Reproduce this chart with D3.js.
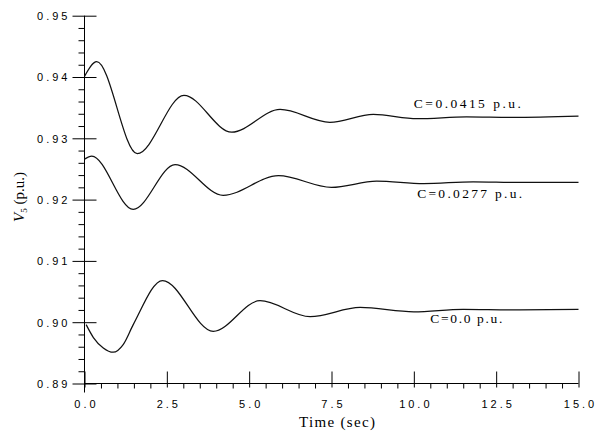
<!DOCTYPE html>
<html>
<head>
<meta charset="utf-8">
<script src="https://cdn.jsdelivr.net/npm/d3@7"></script>
<style>
  html, body { margin: 0; padding: 0; background: #fff; }
  svg { display: block; }
</style>
</head>
<body>
<svg width="599" height="432"></svg>
<script>
// series (time in sec, voltage in p.u.)
const tHigh = [0, 0.37, 1.60, 3.02, 4.47, 5.94, 7.45, 8.77, 10.1, 11.6, 13.0, 15];
const vHigh = [0.9401, 0.9425, 0.9275, 0.9370, 0.9310, 0.9347, 0.9326, 0.9339, 0.9332, 0.9335, 0.9334, 0.9336];

const tMid = [0, 0.22, 1.48, 2.75, 4.21, 5.89, 7.5, 8.87, 10.3, 11.8, 13.2, 15];
const vMid = [0.9266, 0.9271, 0.9184, 0.9257, 0.9207, 0.9239, 0.9220, 0.9230, 0.9226, 0.9229, 0.9228, 0.9228];

const tZero = [0.05, 0.27, 0.57, 0.87, 1.18, 1.48, 2.37, 3.91, 5.33, 6.85, 8.37, 10.0, 11.5, 13.0, 15];
const vZero = [0.8996, 0.8975, 0.8958, 0.8951, 0.8964, 0.8996, 0.9068, 0.8985, 0.9035, 0.9009, 0.9024, 0.9017, 0.9021, 0.9020, 0.9021];

const seriesLabels = ["C=0.0415 p.u.", "C=0.0277 p.u.", "C=0.0 p.u."];
const labelAt = [[10.0, 0.9350], [10.1, 0.9202], [10.5, 0.8999]];

const xMajor = [0, 2.5, 5, 7.5, 10, 12.5, 15];
const xMajorLabels = ["0.0", "2.5", "5.0", "7.5", "10.0", "12.5", "15.0"];
const yMajor = [0.89, 0.90, 0.91, 0.92, 0.93, 0.94, 0.95];
const yMajorLabels = ["0.89", "0.90", "0.91", "0.92", "0.93", "0.94", "0.95"];

const svg = d3.select('svg');

const x = d3.scaleLinear().domain([0, 15]).range([84.5, 578.5]);
const y = d3.scaleLinear().domain([0.89, 0.95]).range([383.5, 15.7]);

const xMinor = d3.range(0, 15.01, 0.5).filter(v => Math.abs(v / 2.5 - Math.round(v / 2.5)) > 1e-6);
const yMinor = d3.range(0.89, 0.9501, 0.002).filter(v => Math.abs(v / 0.01 - Math.round(v / 0.01)) > 1e-6);

const tickFont = '"Liberation Sans", Arial, sans-serif';
const serif = '"Liberation Serif", "DejaVu Serif", serif';

// minor y ticks, left of the axis only
svg.append("g")
    .attr("transform", `translate(${x(0)},0)`)
    .call(d3.axisLeft(y).tickValues(yMinor).tickSize(6).tickSizeOuter(0).tickFormat(""))
    .call(g => g.select(".domain").remove());

// major y ticks cross the axis
const gy = svg.append("g")
    .attr("transform", `translate(${x(0)},0)`)
    .call(d3.axisLeft(y).tickValues(yMajor).tickSize(12).tickSizeOuter(0)
        .tickFormat((d, i) => yMajorLabels[i]).tickPadding(15));
gy.select(".domain").remove();
gy.selectAll(".tick line").attr("x1", 12);
gy.selectAll(".tick text")
    .attr("font-family", tickFont)
    .attr("font-size", 11)
    .attr("letter-spacing", 3)
    .attr("dy", "0.36em")
    .attr("x", -14);

// y axis spine
svg.append("line")
    .attr("x1", x(0)).attr("x2", x(0))
    .attr("y1", y(0.95)).attr("y2", y(0.89) + 9)
    .attr("stroke", "#000");

// minor x ticks, below
svg.append("g")
    .attr("transform", `translate(0,${y(0.89)})`)
    .call(d3.axisBottom(x).tickValues(xMinor).tickSize(5).tickSizeOuter(0).tickFormat(""))
    .call(g => g.select(".domain").attr("d", `M${x(0)},0H${x(15)}`));

// major x ticks
const gx = svg.append("g")
    .attr("transform", `translate(0,${y(0.89)})`)
    .call(d3.axisBottom(x).tickValues(xMajor).tickSize(4).tickSizeOuter(0)
        .tickFormat((d, i) => xMajorLabels[i]));
gx.select(".domain").remove();
gx.selectAll(".tick line").attr("y1", -12);
gx.selectAll(".tick text")
    .attr("font-family", tickFont)
    .attr("font-size", 11)
    .attr("letter-spacing", 3)
    .attr("y", 17)
    .attr("dx", 1.5);

svg.selectAll(".tick line").attr("stroke", "#000");
svg.selectAll(".tick text").attr("fill", "#000");

// curves
const line = d3.line()
    .x(d => x(d[0]))
    .y(d => y(d[1]))
    .curve(d3.curveMonotoneX);

const series = [
    d3.zip(tHigh, vHigh),
    d3.zip(tMid, vMid),
    d3.zip(tZero, vZero)
];

svg.append("g")
    .attr("fill", "none")
    .attr("stroke", "#111")
    .attr("stroke-width", 1.25)
    .selectAll("path")
    .data(series)
    .join("path")
    .attr("d", line);

// curve labels
const labelWidths = [107, 105, 72];
svg.append("g")
    .attr("font-family", serif)
    .attr("font-size", 13.5)
    .selectAll("text")
    .data(seriesLabels)
    .join("text")
    .attr("x", (d, i) => x(labelAt[i][0]))
    .attr("y", (d, i) => y(labelAt[i][1]))
    .attr("textLength", (d, i) => labelWidths[i])
    .attr("lengthAdjust", "spacing")
    .text(d => d);

// axis titles
svg.append("text")
    .attr("x", 337)
    .attr("y", 427)
    .attr("text-anchor", "middle")
    .attr("font-family", serif)
    .attr("font-size", 15)
    .attr("textLength", 76)
    .text("Time (sec)");

const yl = svg.append("text")
    .attr("transform", "translate(24,197) rotate(-90)")
    .attr("text-anchor", "middle")
    .attr("font-family", serif)
    .attr("font-size", 15);
yl.append("tspan").attr("font-style", "italic").text("V");
yl.append("tspan").attr("font-size", 9).attr("dy", 3).text("5");
yl.append("tspan").attr("dy", -3).text(" (p.u.)");
</script>
</body>
</html>
